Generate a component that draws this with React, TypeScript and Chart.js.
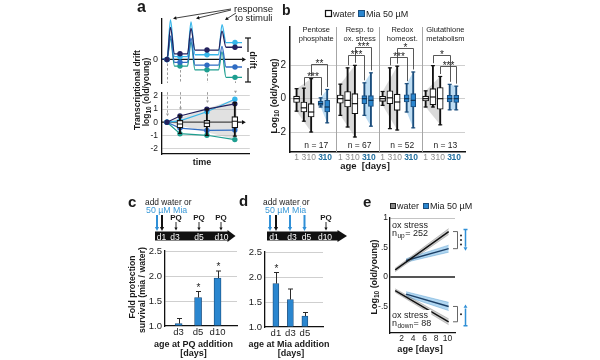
import React, { useEffect, useRef } from "react";
import { Chart, registerables } from "chart.js";

Chart.register(...registerables);

const FONT = "'Liberation Sans', Arial, Helvetica, sans-serif";
Chart.defaults.font.family = FONT;
Chart.defaults.color = "#222";

// ---------------- DATA ----------------
// a: schematic of four example transcripts
const aSampleTimes = [5, 18, 45, 73];
const aStimulusTimes = [8.5, 29, 60];
const aBaseDark = [0, 0.6, 1.0, 1.3];
const aBaseLight = [0, 0.3, 0.5, 1.8];
const aBaseMid = [0, -0.3, -0.6, -0.8];
const aBaseTeal = [0, -0.7, -1.1, -1.9];
const aPeakDark = [3.4, 3.3, 3.0];
const aPeakLight = [4.2, 4.0, 3.7];
const aPeakMid = [2.5, 2.3, 1.4];
const aPeakTeal = [2.2, 1.9, 0.8];
const aDriftDark = [0, 0.47, 1.0, 1.4];
const aDriftLight = [0, 0.1, 0.8, 1.75];
const aDriftMid = [0, -0.45, -0.63, -0.6];
const aDriftTeal = [0, -0.88, -1.0, -1.33];
const aBoxMin = [-0.85, -1.0, -1.07];
const aBoxQ1 = [-0.43, -0.36, -0.43];
const aBoxMed = [-0.14, -0.07, 0.07];
const aBoxQ3 = [0.14, 0.14, 0.43];
const aBoxMax = [0.5, 1.0, 1.5];
const aFanTimes = [5, 75];
const aFanTop = [0, 1.8];
const aFanBottom = [0, -1.35];
const aTopTicks = [0];
const aBottomTicks = [-2, -1, 0, 1, 2];

// b: box plots, 4 gene groups x (water d1,d3,d10, Mia d3,d10)
const bGroupNames = ["Pentose\nphosphate", "Resp. to\nox. stress", "Redox\nhomeost.", "Glutathione\nmetabolism"];
const bN = [17, 67, 52, 13];
const bAgeLabels = ["1", "3", "10", "3", "10"];
const bBoxPos = [0.9, 1.9, 2.9, 4.2, 5.1];
const bGroupStart = [0, 6, 11.8, 17.7];
const bSeparators = [6.3, 12.2, 18.1];
const bMin = [-0.75, -1.35, -2.0, -0.5, -1.45, -1.0, -1.7, -2.3, -1.0, -1.65, -0.4, -1.8, -1.88, -0.8, -1.75, -0.5, -0.5, -1.57, -0.67, -0.67];
const bQ1 = [-0.23, -0.8, -1.1, -0.4, -0.8, -0.27, -0.5, -0.9, -0.3, -0.47, -0.16, -0.3, -0.7, -0.2, -0.5, -0.14, -0.37, -0.63, -0.2, -0.23];
const bMed = [0, -0.55, -0.8, -0.3, -0.5, 0, -0.1, -0.3, 0, -0.1, 0, 0.05, -0.2, 0, -0.1, 0, 0.1, 0, 0, 0];
const bQ3 = [0.15, -0.2, -0.3, -0.15, -0.1, 0.22, 0.43, 0.3, 0.18, 0.18, 0.14, 0.47, 0.27, 0.23, 0.3, 0.15, 0.6, 0.67, 0.2, 0.2];
const bMax = [0.6, 0.63, 1.2, 0.05, 0.55, 0.87, 1.85, 2.0, 0.95, 1.55, 0.43, 1.85, 1.95, 0.9, 1.6, 0.47, 1.98, 1.33, 0.86, 0.75];
const bBrGroup = [0, 0, 1, 1, 2, 2, 3, 3];
const bBrFrom = [2, 1, 2, 1, 2, 1, 1, 2];
const bBrTo = [4, 3, 4, 3, 4, 3, 3, 4];
const bBrLevel = [2.1, 1.3, 3.1, 2.6, 3.05, 2.5, 2.65, 1.95];
const bBrLabel = ["**", "***", "***", "***", "*", "***", "*", "***"];
const bYTicks = [-2, 0, 2];

// c: fold protection, PQ added at different ages
const cLabels = ["d3", "d5", "d10"];
const cValues = [1.05, 1.57, 1.96];
const cErrors = [0.1, 0.12, 0.14];
const cSig = ["", "*", "*"];
// d: fold protection, Mia added at different ages
const dLabels = ["d1", "d3", "d5"];
const dValues = [1.87, 1.55, 1.22];
const dErrors = [0.22, 0.21, 0.07];
const dSig = ["*", "", ""];
const cdYTicks = [1, 1.5, 2, 2.5];

// e: regression of ox-stress genes
const eWaterDays = [0.9, 10.2];
const eMiaDays = [2.8, 10.2];
const eWaterUp = [0.12, 0.77];
const eWaterUpSE = [0.03, 0.05];
const eMiaUp = [0.28, 0.48];
const eMiaUpSE = [0.03, 0.06];
const eWaterDown = [-0.23, -0.76];
const eWaterDownSE = [0.03, 0.05];
const eMiaDown = [-0.29, -0.5];
const eMiaDownSE = [0.04, 0.07];
const eNUp = 252;
const eNDown = 88;
const eSigUp = 3;
const eSigDown = 1;
const eXTicks = [2, 4, 6, 8, 10];
const eYTicks = [1, 0.5, 0, -0.5];
const eYTickLabels = ["1", ".5", "0", "-.5"];

// ---------------- STYLE ----------------
const C_DARK = "#23225e";
const C_LIGHT = "#36b6ea";
const C_MID = "#2f6cc3";
const C_TEAL = "#1e9e90";
const C_BAR = "#2a86cf";
const C_BAR_EDGE = "#1b4d7c";
const C_MIA_TEXT = "#3b9ad8";
const C_ARROW_BLUE = "#2f8fd6";
const GRID = "#cfcfcf";
const INK = "#1a1a1a";

// ---------------- HELPERS ----------------
function fixY(w: number) {
  return (s: any) => {
    s.width = w;
    s.paddingTop = 0;
    s.paddingBottom = 0;
  };
}
function fixX(h: number) {
  return (s: any) => {
    s.height = h;
    s.paddingLeft = 0;
    s.paddingRight = 0;
  };
}
function setTicks(vals: number[]) {
  return (s: any) => {
    s.ticks = vals.map((v) => ({ value: v }));
  };
}
function baseOpts(pad: any) {
  return {
    responsive: false,
    animation: false,
    events: [],
    layout: { padding: pad },
    plugins: { legend: { display: false }, tooltip: { enabled: false } },
  };
}
function tri(ctx: any, x: number, y: number, dir: string, s: number) {
  ctx.beginPath();
  if (dir === "right") {
    ctx.moveTo(x, y);
    ctx.lineTo(x - s * 1.3, y - s * 0.75);
    ctx.lineTo(x - s * 1.3, y + s * 0.75);
  } else if (dir === "down") {
    ctx.moveTo(x, y);
    ctx.lineTo(x - s * 0.75, y - s * 1.3);
    ctx.lineTo(x + s * 0.75, y - s * 1.3);
  } else {
    ctx.moveTo(x, y);
    ctx.lineTo(x - s * 0.75, y + s * 1.3);
    ctx.lineTo(x + s * 0.75, y + s * 1.3);
  }
  ctx.closePath();
  ctx.fill();
}

const A_LINE_END = 80;
const A_ARROW_END = 83;

function wave(base: number[], peak: number[]) {
  const pts: { x: number; y: number }[] = [{ x: 0, y: base[0] }];
  aStimulusTimes.forEach((p, i) => {
    pts.push({ x: p - 3.5, y: base[i] }, { x: p, y: peak[i] }, { x: p + 4, y: base[i + 1] });
  });
  pts.push({ x: A_LINE_END, y: base[3] });
  return pts;
}

// ---------------- PANEL a ----------------
const aTopPlugin = {
  id: "aTop",
  beforeDatasetsDraw(chart: any) {
    const { ctx, chartArea: a, scales } = chart;
    const x = scales.x, y = scales.y;
    ctx.save();
    ctx.strokeStyle = "#9a9a9a";
    ctx.lineWidth = 1;
    ctx.setLineDash([2.5, 2]);
    aSampleTimes.forEach((t, k) => {
      const low = Math.min(aBaseDark[k], aBaseLight[k], aBaseMid[k], aBaseTeal[k]);
      const px = Math.round(x.getPixelForValue(t)) + 0.5;
      ctx.beginPath();
      ctx.moveTo(px, y.getPixelForValue(low) + 4);
      ctx.lineTo(px, a.bottom);
      ctx.stroke();
    });
    ctx.setLineDash([]);
    const y0 = y.getPixelForValue(0);
    const xe = x.getPixelForValue(A_ARROW_END);
    ctx.strokeStyle = "#111";
    ctx.fillStyle = "#111";
    ctx.lineWidth = 1.3;
    ctx.beginPath();
    ctx.moveTo(a.left, y0);
    ctx.lineTo(xe - 3, y0);
    ctx.stroke();
    tri(ctx, xe + 1, y0, "right", 3);
    ctx.restore();
  },
};

function makeATop() {
  const series: any[] = [
    [C_DARK, aBaseDark, aPeakDark],
    [C_LIGHT, aBaseLight, aPeakLight],
    [C_MID, aBaseMid, aPeakMid],
    [C_TEAL, aBaseTeal, aPeakTeal],
  ];
  const datasets: any[] = [];
  series.forEach(([c, b, p], i) => {
    datasets.push({
      data: aSampleTimes.map((t, k) => ({ x: t, y: b[k] })),
      showLine: false,
      pointRadius: 2.7,
      pointBackgroundColor: c,
      pointBorderColor: c,
      pointBorderWidth: 0,
      order: i,
    });
    datasets.push({
      data: wave(b, p),
      borderColor: c,
      borderWidth: 1.3,
      pointRadius: 0,
      cubicInterpolationMode: "monotone",
      fill: false,
      order: 10 + i,
    });
  });
  return {
    type: "line",
    data: { datasets },
    options: {
      ...baseOpts({ top: 4, right: 5, left: 0, bottom: 0 }),
      scales: {
        x: { type: "linear", min: 0, max: 88, display: false },
        y: {
          type: "linear",
          min: -2.5,
          max: 4.3,
          afterFit: fixY(37),
          afterBuildTicks: setTicks(aTopTicks),
          ticks: { font: { size: 9 }, padding: 4, color: "#222" },
          grid: { display: false, drawTicks: false },
          border: { display: true, color: "#111", width: 1.3 },
        },
      },
    },
    plugins: [aTopPlugin],
  };
}

const aBottomPlugin = {
  id: "aBottom",
  beforeDatasetsDraw(chart: any) {
    const { ctx, chartArea: a, scales } = chart;
    const x = scales.x, y = scales.y;
    ctx.save();
    ctx.strokeStyle = "#9a9a9a";
    ctx.fillStyle = "#9a9a9a";
    ctx.lineWidth = 1;
    aSampleTimes.forEach((t, k) => {
      const high = Math.max(aDriftDark[k], aDriftLight[k], aDriftMid[k], aDriftTeal[k]);
      const px = Math.round(x.getPixelForValue(t)) + 0.5;
      const end = y.getPixelForValue(high) - 6;
      ctx.setLineDash([2.5, 2]);
      ctx.beginPath();
      ctx.moveTo(px, a.top);
      ctx.lineTo(px, end - 2);
      ctx.stroke();
      ctx.setLineDash([]);
      tri(ctx, px, end, "down", 2);
    });
    const y0 = y.getPixelForValue(0);
    const xe = x.getPixelForValue(A_ARROW_END);
    ctx.strokeStyle = "#111";
    ctx.fillStyle = "#111";
    ctx.lineWidth = 1.3;
    ctx.beginPath();
    ctx.moveTo(a.left, y0);
    ctx.lineTo(xe - 3, y0);
    ctx.stroke();
    tri(ctx, xe + 1, y0, "right", 3);
    ctx.restore();
  },
};

function makeABottom() {
  const series: any[] = [
    [C_DARK, aDriftDark],
    [C_LIGHT, aDriftLight],
    [C_MID, aDriftMid],
    [C_TEAL, aDriftTeal],
  ];
  const boxTimes = aSampleTimes.slice(1);
  const datasets: any[] = [
    {
      type: "line",
      data: aFanTimes.map((t, i) => ({ x: t, y: aFanTop[i] })),
      borderWidth: 0,
      pointRadius: 0,
      fill: false,
      order: 50,
    },
    {
      type: "line",
      data: aFanTimes.map((t, i) => ({ x: t, y: aFanBottom[i] })),
      borderWidth: 0,
      pointRadius: 0,
      fill: "-1",
      backgroundColor: "rgba(170,170,170,0.35)",
      order: 50,
    },
  ];
  series.forEach(([c, d], i) => {
    datasets.push({
      type: "line",
      data: aSampleTimes.map((t, k) => ({ x: t, y: d[k] })),
      borderColor: c,
      borderWidth: 1.2,
      pointRadius: 2.7,
      pointBackgroundColor: c,
      pointBorderColor: c,
      pointBorderWidth: 0,
      order: 10 + i,
    });
  });
  datasets.push(
    {
      type: "bar",
      data: boxTimes.map((t, k) => ({ x: t, y: [aBoxMin[k], aBoxMax[k]] })),
      backgroundColor: "#111",
      barThickness: 1.2,
      grouped: false,
      order: 3,
    },
    {
      type: "bar",
      data: boxTimes.map((t, k) => ({ x: t, y: [aBoxQ1[k], aBoxQ3[k]] })),
      backgroundColor: "#fff",
      borderColor: "#111",
      borderWidth: 1.2,
      borderSkipped: false,
      barThickness: 6,
      grouped: false,
      order: 2,
    },
    {
      type: "line",
      data: boxTimes.map((t, k) => ({ x: t, y: aBoxMed[k] })),
      showLine: false,
      pointStyle: "line",
      pointRadius: 3,
      borderColor: "#111",
      pointBorderWidth: 1.2,
      order: 1,
    },
    {
      type: "line",
      data: boxTimes.map((t, k) => ({ x: t, y: aBoxMin[k] })).concat(boxTimes.map((t, k) => ({ x: t, y: aBoxMax[k] }))),
      showLine: false,
      pointStyle: "line",
      pointRadius: 2,
      borderColor: "#111",
      pointBorderWidth: 1.2,
      order: 1,
    }
  );
  return {
    type: "line",
    data: { datasets },
    options: {
      ...baseOpts({ top: 1, right: 5, left: 0, bottom: 0 }),
      scales: {
        x: {
          type: "linear",
          min: 0,
          max: 88,
          offset: false,
          afterFit: fixX(16),
          ticks: { display: false },
          grid: { display: false, drawTicks: false },
          border: { display: true, color: "#111", width: 1.3 },
        },
        y: {
          type: "linear",
          min: -2.43,
          max: 2.29,
          afterFit: fixY(37),
          afterBuildTicks: setTicks(aBottomTicks),
          ticks: { font: { size: 8.5 }, padding: 4, color: "#222" },
          grid: {
            color: (c: any) => (c.tick && c.tick.value === 0 ? "rgba(0,0,0,0)" : GRID),
            lineWidth: 0.9,
            drawTicks: false,
          },
          border: { display: true, color: "#111", width: 1.3 },
        },
      },
    },
    plugins: [aBottomPlugin],
  };
}

// ---------------- PANEL b ----------------
function bBoxX(i: number) {
  return bGroupStart[Math.floor(i / 5)] + bBoxPos[i % 5];
}
const B_N_LEVEL = -2.8;

const bPlugin = {
  id: "bDecor",
  beforeDatasetsDraw(chart: any) {
    const { ctx, chartArea: a, scales } = chart;
    const x = scales.x;
    ctx.save();
    ctx.strokeStyle = "#a6a6a6";
    ctx.lineWidth = 1;
    bSeparators.forEach((s) => {
      const px = Math.round(x.getPixelForValue(s)) + 0.5;
      ctx.beginPath();
      ctx.moveTo(px, a.top);
      ctx.lineTo(px, a.bottom);
      ctx.stroke();
    });
    ctx.restore();
  },
  afterDatasetsDraw(chart: any) {
    const { ctx, chartArea: a, scales } = chart;
    const x = scales.x, y = scales.y;
    ctx.save();
    ctx.fillStyle = "#222";
    ctx.textAlign = "center";
    bGroupNames.forEach((name, g) => {
      const left = bGroupStart[g] + bBoxPos[0];
      const right = g < bSeparators.length ? bSeparators[g] : x.max;
      const cx = x.getPixelForValue((left + right) / 2);
      ctx.font = `7.5px ${FONT}`;
      ctx.textBaseline = "middle";
      name.split("\n").forEach((line, li) => ctx.fillText(line, cx, a.top + 3 + li * 8.5));
      ctx.font = `8.5px ${FONT}`;
      ctx.fillText(`n = ${bN[g]}`, cx, y.getPixelForValue(B_N_LEVEL));
    });
    ctx.strokeStyle = "#444";
    ctx.lineWidth = 0.9;
    ctx.font = `10px ${FONT}`;
    ctx.textBaseline = "alphabetic";
    bBrGroup.forEach((g, i) => {
      const i1 = g * 5 + bBrFrom[i];
      const i2 = g * 5 + bBrTo[i];
      const x1 = Math.round(x.getPixelForValue(bBoxX(i1))) + 0.5;
      const x2 = Math.round(x.getPixelForValue(bBoxX(i2))) + 0.5;
      const yl = Math.round(y.getPixelForValue(bBrLevel[i])) + 0.5;
      const y1 = y.getPixelForValue(bMax[i1] + 0.15);
      const y2 = y.getPixelForValue(bMax[i2] + 0.15);
      ctx.beginPath();
      ctx.moveTo(x1, y1);
      ctx.lineTo(x1, yl);
      ctx.lineTo(x2, yl);
      ctx.lineTo(x2, y2);
      ctx.stroke();
      ctx.fillText(bBrLabel[i], (x1 + x2) / 2, yl + 2);
    });
    ctx.restore();
  },
};

function makeB() {
  const idx = bMin.map((_, i) => i);
  const water = idx.filter((i) => i % 5 < 3);
  const mia = idx.filter((i) => i % 5 >= 3);
  const datasets: any[] = [];
  bGroupNames.forEach((_, g) => {
    const w1 = g * 5, w10 = g * 5 + 2, m3 = g * 5 + 3, m10 = g * 5 + 4;
    datasets.push(
      { type: "line", data: [{ x: bBoxX(w1), y: bMax[w1] }, { x: bBoxX(w10), y: bMax[w10] }], borderWidth: 0, pointRadius: 0, fill: false, order: 60 },
      { type: "line", data: [{ x: bBoxX(w1), y: bMin[w1] }, { x: bBoxX(w10), y: bMin[w10] }], borderWidth: 0, pointRadius: 0, fill: "-1", backgroundColor: "rgba(165,165,165,0.42)", order: 60 },
      { type: "line", data: [{ x: bBoxX(m3), y: bMax[m3] }, { x: bBoxX(m10), y: bMax[m10] }], borderWidth: 0, pointRadius: 0, fill: false, order: 60 },
      { type: "line", data: [{ x: bBoxX(m3), y: bMin[m3] }, { x: bBoxX(m10), y: bMin[m10] }], borderWidth: 0, pointRadius: 0, fill: "-1", backgroundColor: "rgba(110,180,228,0.45)", order: 60 }
    );
  });
  const groupSets = [
    { ids: water, box: "#ffffff", edge: "#111", med: "#111", w: 6 },
    { ids: mia, box: C_BAR, edge: C_BAR_EDGE, med: "#0f3355", w: 5 },
  ];
  groupSets.forEach((s) => {
    datasets.push(
      { type: "bar", data: s.ids.map((i) => ({ x: bBoxX(i), y: [bMin[i], bMax[i]] })), backgroundColor: s.edge, barThickness: 1.2, grouped: false, order: 30 },
      { type: "bar", data: s.ids.map((i) => ({ x: bBoxX(i), y: [bQ1[i], bQ3[i]] })), backgroundColor: s.box, borderColor: s.edge, borderWidth: 1.1, borderSkipped: false, barThickness: s.w, grouped: false, order: 20 },
      { type: "line", data: s.ids.map((i) => ({ x: bBoxX(i), y: bMed[i] })), showLine: false, pointStyle: "line", pointRadius: s.w / 2, borderColor: s.med, pointBorderWidth: 1.2, order: 10 },
      { type: "line", data: s.ids.map((i) => ({ x: bBoxX(i), y: bMin[i] })).concat(s.ids.map((i) => ({ x: bBoxX(i), y: bMax[i] }))), showLine: false, pointStyle: "line", pointRadius: 2, borderColor: s.edge, pointBorderWidth: 1.2, order: 10 }
    );
  });
  return {
    type: "bar",
    data: { datasets },
    options: {
      ...baseOpts({ top: 27, right: 8, left: 0, bottom: 0 }),
      scales: {
        x: {
          type: "linear",
          min: 0,
          max: 24,
          offset: false,
          afterFit: fixX(23),
          afterBuildTicks: setTicks(idx.map((i) => bBoxX(i))),
          ticks: {
            autoSkip: false,
            maxRotation: 0,
            padding: 1,
            callback: (_v: any, i: number) => bAgeLabels[i % 5],
            color: (c: any) => (c.index % 5 < 3 ? "#8c8c8c" : "#24709f"),
            font: (c: any) => ({ size: 8.5, weight: c.index % 5 < 3 ? "normal" : "bold" }),
          },
          grid: { display: false, offset: false, drawTicks: false },
          border: { display: true, color: "#111", width: 1.5 },
        },
        y: {
          type: "linear",
          min: -3.2,
          max: 4.3,
          afterFit: fixY(32),
          afterBuildTicks: setTicks(bYTicks),
          ticks: { font: { size: 10 }, padding: 4, color: "#222" },
          grid: { color: GRID, lineWidth: 1, drawTicks: false },
          border: { display: true, color: "#111", width: 1.5 },
        },
      },
    },
    plugins: [bPlugin],
  };
}

// ---------------- PANELS c, d ----------------
const errorBarPlugin = {
  id: "errbars",
  afterDatasetsDraw(chart: any) {
    const { ctx } = chart;
    const ys = chart.scales.y;
    chart.data.datasets.forEach((ds: any, di: number) => {
      if (!ds.errors) return;
      const meta = chart.getDatasetMeta(di);
      meta.data.forEach((el: any, i: number) => {
        const v = ds.data[i].y;
        const top = ys.getPixelForValue(v + ds.errors[i]);
        const px = Math.round(el.x) + 0.5;
        ctx.save();
        ctx.strokeStyle = "#2a2a2a";
        ctx.lineWidth = 1;
        ctx.beginPath();
        ctx.moveTo(px, el.y);
        ctx.lineTo(px, top);
        ctx.moveTo(px - 2.5, top);
        ctx.lineTo(px + 2.5, top);
        ctx.stroke();
        if (ds.sig[i]) {
          ctx.fillStyle = "#222";
          ctx.font = `10px ${FONT}`;
          ctx.textAlign = "center";
          ctx.fillText(ds.sig[i], px, top - 1);
        }
        ctx.restore();
      });
    });
  },
};

function makeBarPanel(labels: string[], values: number[], errs: number[], sig: string[], xMin: number, xMax: number, pad: any, barW: number) {
  return {
    type: "bar",
    data: {
      datasets: [
        {
          data: labels.map((_, i) => ({ x: i + 1, y: values[i] })),
          base: 1,
          backgroundColor: C_BAR,
          borderColor: C_BAR_EDGE,
          borderWidth: 0.8,
          barThickness: barW,
          errors: errs,
          sig,
        },
      ],
    },
    options: {
      ...baseOpts(pad),
      scales: {
        x: {
          type: "linear",
          min: xMin,
          max: xMax,
          offset: false,
          afterFit: fixX(12),
          afterBuildTicks: setTicks(labels.map((_, i) => i + 1)),
          ticks: { callback: (_v: any, i: number) => labels[i], font: { size: 9.5 }, padding: 1, autoSkip: false, maxRotation: 0, color: "#222" },
          grid: { display: false, offset: false, drawTicks: false },
          border: { display: true, color: "#111", width: 1.3 },
        },
        y: {
          type: "linear",
          min: 1,
          max: 2.5,
          afterFit: fixY(25),
          afterBuildTicks: setTicks(cdYTicks),
          ticks: { callback: (v: any) => Number(v).toFixed(1), font: { size: 9.5 }, padding: 3, color: "#222" },
          grid: { color: (c: any) => (c.tick && c.tick.value === 1 ? "rgba(0,0,0,0)" : GRID), lineWidth: 1, drawTicks: false },
          border: { display: true, color: "#111", width: 1.3 },
        },
      },
    },
    plugins: [errorBarPlugin],
  };
}
const makeC = () => makeBarPanel(cLabels, cValues, cErrors, cSig, 0.3, 4.0, { top: 5, right: 3, left: 0, bottom: 0 }, 7);
const makeD = () => makeBarPanel(dLabels, dValues, dErrors, dSig, 0.25, 4.25, { top: 6, right: 7, left: 0, bottom: 0 }, 6);

// ---------------- PANEL e ----------------
function drawLabelBlock(ctx: any, x: number, y1: number, y2: number, sub: string, n: number) {
  ctx.font = `9px ${FONT}`;
  const w1 = ctx.measureText("ox stress").width;
  const wn = ctx.measureText("n").width;
  ctx.font = `6.5px ${FONT}`;
  const ws = ctx.measureText(sub).width;
  ctx.font = `9px ${FONT}`;
  const wr = ctx.measureText(`= ${n}`).width;
  const w = Math.max(w1, wn + ws + wr) + 2;
  ctx.fillStyle = "#fff";
  ctx.fillRect(x - 1, y1 - 8, w, y2 - y1 + 11);
  ctx.fillStyle = "#222";
  ctx.textAlign = "left";
  ctx.textBaseline = "alphabetic";
  ctx.fillText("ox stress", x, y1);
  ctx.fillText("n", x, y2);
  ctx.font = `6.5px ${FONT}`;
  ctx.fillText(sub, x + wn + 0.5, y2 + 2);
  ctx.font = `9px ${FONT}`;
  ctx.fillText(`= ${n}`, x + wn + ws + 1, y2);
}

function drawSideBracket(ctx: any, xr: number, ya: number, yb: number, stars: number, dir: string) {
  const top = Math.min(ya, yb), bot = Math.max(ya, yb);
  ctx.strokeStyle = "#555";
  ctx.lineWidth = 0.9;
  ctx.beginPath();
  ctx.moveTo(xr - 2, top);
  ctx.lineTo(xr + 2.5, top);
  ctx.lineTo(xr + 2.5, bot);
  ctx.lineTo(xr - 2, bot);
  ctx.stroke();
  ctx.fillStyle = "#222";
  const mid = (top + bot) / 2;
  for (let i = 0; i < stars; i++) {
    ctx.beginPath();
    ctx.arc(xr + 6, mid + (i - (stars - 1) / 2) * 4.5, 1, 0, Math.PI * 2);
    ctx.fill();
  }
  const ax = xr + 10.5;
  ctx.strokeStyle = C_ARROW_BLUE;
  ctx.fillStyle = C_ARROW_BLUE;
  ctx.lineWidth = 1.5;
  ctx.beginPath();
  if (dir === "down") {
    ctx.moveTo(ax - 2, top - 2);
    ctx.lineTo(ax + 2, top - 2);
    ctx.moveTo(ax, top - 2);
    ctx.lineTo(ax, bot - 2);
    ctx.stroke();
    tri(ctx, ax, bot + 2, "down", 2.6);
  } else {
    ctx.moveTo(ax - 2, bot + 4);
    ctx.lineTo(ax + 2, bot + 4);
    ctx.moveTo(ax, bot + 4);
    ctx.lineTo(ax, top + 2);
    ctx.stroke();
    tri(ctx, ax, top - 2, "up", 2.6);
  }
}

const ePlugin = {
  id: "eDecor",
  afterDatasetsDraw(chart: any) {
    const { ctx, chartArea: a, scales } = chart;
    const y = scales.y;
    ctx.save();
    drawLabelBlock(ctx, a.left + 2, a.top + 10, a.top + 17.5, "up", eNUp);
    drawLabelBlock(ctx, a.left + 2, a.bottom - 15, a.bottom - 7, "down", eNDown);
    const L = eWaterUp.length - 1;
    const M = eMiaUp.length - 1;
    drawSideBracket(ctx, a.right, y.getPixelForValue(eWaterUp[L]), y.getPixelForValue(eMiaUp[M]), eSigUp, "down");
    drawSideBracket(ctx, a.right, y.getPixelForValue(eMiaDown[M]), y.getPixelForValue(eWaterDown[L]), eSigDown, "up");
    ctx.restore();
  },
};

function band(days: number[], vals: number[], se: number[], sign: number) {
  return days.map((d, i) => ({ x: d, y: vals[i] + sign * se[i] }));
}
function line(days: number[], vals: number[]) {
  return days.map((d, i) => ({ x: d, y: vals[i] }));
}

function makeE() {
  const grayFill = "rgba(140,140,140,0.42)";
  const blueFill = "rgba(80,165,225,0.45)";
  const grayEdge = "rgba(110,110,110,0.55)";
  const blueEdge = "rgba(60,140,200,0.6)";
  const bandPair = (days: number[], vals: number[], se: number[], fillC: string, edge: string) => [
    { data: band(days, vals, se, 1), borderColor: edge, borderWidth: 0.6, pointRadius: 0, fill: false, order: 20 },
    { data: band(days, vals, se, -1), borderColor: edge, borderWidth: 0.6, pointRadius: 0, fill: "-1", backgroundColor: fillC, order: 20 },
  ];
  const datasets: any[] = [
    ...bandPair(eWaterDays, eWaterUp, eWaterUpSE, grayFill, grayEdge),
    ...bandPair(eMiaDays, eMiaUp, eMiaUpSE, blueFill, blueEdge),
    ...bandPair(eWaterDays, eWaterDown, eWaterDownSE, grayFill, grayEdge),
    ...bandPair(eMiaDays, eMiaDown, eMiaDownSE, blueFill, blueEdge),
    { data: line(eMiaDays, eMiaUp), borderColor: "#1b3f66", borderWidth: 1.4, pointRadius: 0, order: 2 },
    { data: line(eMiaDays, eMiaDown), borderColor: "#1b3f66", borderWidth: 1.4, pointRadius: 0, order: 2 },
    { data: line(eWaterDays, eWaterUp), borderColor: "#111", borderWidth: 1.5, pointRadius: 0, order: 1 },
    { data: line(eWaterDays, eWaterDown), borderColor: "#111", borderWidth: 1.5, pointRadius: 0, order: 1 },
  ];
  return {
    type: "line",
    data: { datasets },
    options: {
      ...baseOpts({ top: 6, right: 20, left: 0, bottom: 0 }),
      scales: {
        x: {
          type: "linear",
          min: 0,
          max: 11.3,
          offset: false,
          afterFit: fixX(12),
          afterBuildTicks: setTicks(eXTicks),
          ticks: { font: { size: 8.5 }, padding: 1, autoSkip: false, maxRotation: 0, color: "#222" },
          grid: { display: false, drawTicks: false },
          border: { display: true, color: "#111", width: 1.3 },
        },
        y: {
          type: "linear",
          min: -0.95,
          max: 1.0,
          afterFit: fixY(18),
          afterBuildTicks: setTicks(eYTicks),
          ticks: { callback: (_v: any, i: number) => eYTickLabels[i], font: { size: 8.5 }, padding: 2, color: "#222" },
          grid: {
            color: (c: any) => (c.tick && c.tick.value === 0 ? "#555" : c.tick && c.tick.value === 1 ? "#c4c4c4" : "rgba(0,0,0,0)"),
            lineWidth: (c: any) => (c.tick && c.tick.value === 0 ? 2 : 1),
            drawTicks: false,
          },
          border: { display: true, color: "#111", width: 1.3 },
        },
      },
    },
    plugins: [ePlugin],
  };
}

// ---------------- COMPONENTS ----------------
function ChartCanvas({ left, top, width, height, make }: any) {
  const ref = useRef<HTMLCanvasElement | null>(null);
  useEffect(() => {
    const chart = new Chart(ref.current as HTMLCanvasElement, make());
    return () => chart.destroy();
  }, []);
  return (
    <canvas
      ref={ref}
      width={width}
      height={height}
      style={{ position: "absolute", left, top, width, height, display: "block" }}
    />
  );
}

function Arrow({ x1, y1, x2, y2, color = "#111", w = 1, head = 3 }: any) {
  const ang = Math.atan2(y2 - y1, x2 - x1);
  const c = Math.cos(ang), s = Math.sin(ang);
  const bx = x2 - head * 1.3 * c, by = y2 - head * 1.3 * s;
  const p1 = `${bx + head * 0.7 * s},${by - head * 0.7 * c}`;
  const p2 = `${bx - head * 0.7 * s},${by + head * 0.7 * c}`;
  return (
    <g>
      <line x1={x1} y1={y1} x2={bx + 0.5 * c} y2={by + 0.5 * s} stroke={color} strokeWidth={w} />
      <polygon points={`${x2},${y2} ${p1} ${p2}`} fill={color} />
    </g>
  );
}

function Timeline({ x0, x1, tip, labels, labelX }: any) {
  return (
    <g>
      <rect x={x0} y={231.5} width={x1 - x0} height={9} fill="#111" />
      <polygon points={`${x1 - 0.5},230 ${tip},236 ${x1 - 0.5},242`} fill="#111" />
      {labels.map((l: string, i: number) => (
        <text key={l} x={labelX[i]} y={239.5} textAnchor="middle" fontSize={8.5} fill="#fff">
          {l}
        </text>
      ))}
    </g>
  );
}

function PQ({ x }: any) {
  return (
    <g>
      <text x={x} y={220} textAnchor="middle" fontSize={8} fontWeight="bold">
        PQ
      </text>
      <Arrow x1={x} y1={222} x2={x} y2={230.5} w={0.9} head={2.3} />
    </g>
  );
}

function Overlay() {
  return (
    <svg
      width={600}
      height={360}
      style={{ position: "absolute", left: 0, top: 0, pointerEvents: "none" }}
      fontFamily={FONT}
      fill={INK}
    >
      {/* panel a */}
      <text x={137} y={12} fontSize={16} fontWeight="bold">a</text>
      <text x={234} y={12} fontSize={9.5}>response</text>
      <text x={235} y={21} fontSize={9.5}>to stimuli</text>
      <Arrow x1={231} y1={9} x2={173} y2={18.5} w={0.8} head={2.6} />
      <Arrow x1={231} y1={10} x2={196} y2={18.5} w={0.8} head={2.6} />
      <Arrow x1={236} y1={13} x2={225} y2={20} w={0.8} head={2.6} />
      <line x1={248} y1={38} x2={248} y2={52} stroke="#111" strokeWidth={1.2} />
      <line x1={245} y1={38} x2={251} y2={38} stroke="#111" strokeWidth={1.2} />
      <line x1={248} y1={68} x2={248} y2={82} stroke="#111" strokeWidth={1.2} />
      <line x1={245} y1={82} x2={251} y2={82} stroke="#111" strokeWidth={1.2} />
      <text transform="translate(250,60) rotate(90)" textAnchor="middle" fontSize={9} fontWeight="bold">drift</text>
      <text x={202} y={165} textAnchor="middle" fontSize={9} fontWeight="bold">time</text>
      <text transform="translate(140,90) rotate(-90)" textAnchor="middle" fontSize={8.5} fontWeight="bold">
        Transcriptional drift
      </text>
      <text transform="translate(149,92) rotate(-90)" textAnchor="middle" fontSize={8.5} fontWeight="bold">
        log<tspan dy={2} fontSize={6.5}>10</tspan>
        <tspan dy={-2}> (old/young)</tspan>
      </text>

      {/* panel b */}
      <text x={282} y={15} fontSize={14} fontWeight="bold">b</text>
      <rect x={325.5} y={10.5} width={6} height={6} fill="#fff" stroke="#111" strokeWidth={1.2} />
      <text x={333} y={17} fontSize={9}>water</text>
      <rect x={358.5} y={10.5} width={6} height={6} fill={C_BAR} stroke={C_BAR_EDGE} strokeWidth={1} />
      <text x={366} y={17} fontSize={9}>Mia 50 µM</text>
      <text transform="translate(277,96) rotate(-90)" textAnchor="middle" fontSize={9} fontWeight="bold">
        Log<tspan dy={2} fontSize={6.5}>10</tspan>
        <tspan dy={-2}> (old/young)</tspan>
      </text>
      <text x={365} y={169} textAnchor="middle" fontSize={9.5} fontWeight="bold" style={{ whiteSpace: "pre" }}>
        {"age  [days]"}
      </text>

      {/* panel c */}
      <text x={128} y={207} fontSize={15} fontWeight="bold">c</text>
      <text x={145} y={205} fontSize={8.4}>add water or</text>
      <text x={146} y={213} fontSize={8.8} fill={C_MIA_TEXT}>50 µM Mia</text>
      <Arrow x1={157} y1={215} x2={157} y2={231} color={C_ARROW_BLUE} w={2} head={3} />
      <Arrow x1={162} y1={215} x2={162} y2={231} color="#111" w={2} head={3} />
      <PQ x={176} />
      <PQ x={199} />
      <PQ x={221} />
      <Timeline x0={155} x1={228} tip={235.5} labels={["d1", "d3", "d5", "d10"]} labelX={[161.5, 175, 199, 221.5]} />
      <text transform="translate(135,287) rotate(-90)" textAnchor="middle" fontSize={8.7} fontWeight="bold">
        Fold protection
      </text>
      <text transform="translate(144.5,290) rotate(-90)" textAnchor="middle" fontSize={8.7} fontWeight="bold">
        survival (mia / water)
      </text>
      <text x={193.5} y={347} textAnchor="middle" fontSize={9} fontWeight="bold">age at PQ addition</text>
      <text x={193.5} y={356} textAnchor="middle" fontSize={9} fontWeight="bold">[days]</text>

      {/* panel d */}
      <text x={239} y={206} fontSize={15} fontWeight="bold">d</text>
      <text x={263} y={205} fontSize={8.4}>add water or</text>
      <text x={265} y={213} fontSize={8.8} fill={C_MIA_TEXT}>50 µM Mia</text>
      <Arrow x1={270} y1={215} x2={270} y2={231} color={C_ARROW_BLUE} w={2} head={3} />
      <Arrow x1={276} y1={215} x2={276} y2={231} color="#111" w={2} head={3} />
      <Arrow x1={290} y1={215} x2={290} y2={231} color={C_ARROW_BLUE} w={2} head={3} />
      <Arrow x1={304.5} y1={215} x2={304.5} y2={231} color={C_ARROW_BLUE} w={2} head={3} />
      <PQ x={326} />
      <Timeline x0={267} x1={338} tip={347} labels={["d1", "d3", "d5", "d10"]} labelX={[274, 292, 306.5, 325]} />
      <text x={289} y={347} textAnchor="middle" fontSize={9} fontWeight="bold">age at Mia addition</text>
      <text x={291} y={356} textAnchor="middle" fontSize={9} fontWeight="bold">[days]</text>

      {/* panel e */}
      <text x={363} y={207} fontSize={15} fontWeight="bold">e</text>
      <rect x={390.5} y={203.5} width={5} height={5} fill="#8a8a8a" stroke="#222" strokeWidth={1} />
      <text x={397} y={209} fontSize={9}>water</text>
      <rect x={423.5} y={203.5} width={5} height={5} fill={C_BAR} stroke={C_BAR_EDGE} strokeWidth={1} />
      <text x={430} y={209} fontSize={9}>Mia 50 µM</text>
      <text transform="translate(377,277) rotate(-90)" textAnchor="middle" fontSize={9} fontWeight="bold">
        Log<tspan dy={2} fontSize={6.5}>10</tspan>
        <tspan dy={-2}> (old/young)</tspan>
      </text>
      <text x={420} y={352} textAnchor="middle" fontSize={9.2} fontWeight="bold">age [days]</text>
    </svg>
  );
}

export default function App() {
  return (
    <div
      style={{
        position: "fixed",
        left: 0,
        top: 0,
        width: 600,
        height: 360,
        background: "#fff",
        overflow: "hidden",
        fontFamily: FONT,
      }}
    >
      <ChartCanvas left={125} top={15} width={130} height={72} make={makeATop} />
      <ChartCanvas left={125} top={87} width={130} height={83} make={makeABottom} />
      <ChartCanvas left={258} top={0} width={215} height={175} make={makeB} />
      <ChartCanvas left={140} top={246} width={100} height={92} make={makeC} />
      <ChartCanvas left={240} top={246} width={90} height={93} make={makeD} />
      <ChartCanvas left={372} top={212} width={103} height={133} make={makeE} />
      <Overlay />
    </div>
  );
}
